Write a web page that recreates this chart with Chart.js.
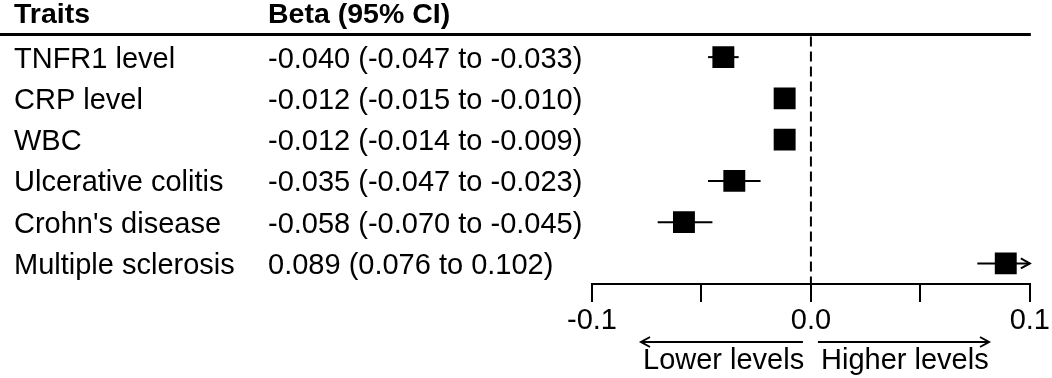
<!DOCTYPE html>
<html>
<head>
<meta charset="utf-8">
<script src="https://cdn.jsdelivr.net/npm/chart.js@4/dist/chart.umd.min.js"></script>
<style>
  html, body { margin: 0; padding: 0; background: #fff; }
  #wrap { width: 1052px; height: 378px; }
</style>
</head>
<body>
<div id="wrap"><canvas id="c" width="1052" height="378"></canvas></div>
<script>
const traits = ["TNFR1 level", "CRP level", "WBC", "Ulcerative colitis", "Crohn's disease", "Multiple sclerosis"];
const beta = [-0.040, -0.012, -0.012, -0.035, -0.058, 0.089];
const lower = [-0.047, -0.015, -0.014, -0.047, -0.070, 0.076];
const upper = [-0.033, -0.010, -0.009, -0.023, -0.045, 0.102];
const ciText = [
  "-0.040 (-0.047 to -0.033)",
  "-0.012 (-0.015 to -0.010)",
  "-0.012 (-0.014 to -0.009)",
  "-0.035 (-0.047 to -0.023)",
  "-0.058 (-0.070 to -0.045)",
  "0.089 (0.076 to 0.102)"
];
const headers = ["Traits", "Beta (95% CI)"];
const xTicks = [-0.1, -0.05, 0, 0.05, 0.1];
const xTickLabels = ["-0.1", "", "0.0", "", "0.1"];
const directionLabels = ["Lower levels", "Higher levels"];

const FONT = "'Liberation Sans', Arial, Helvetica, sans-serif";
const X_MIN = -0.1, X_MAX = 0.1;

function arrowHead(ctx, x, y, dir) {
  ctx.beginPath();
  ctx.moveTo(x - dir * 9, y - 5);
  ctx.lineTo(x, y);
  ctx.lineTo(x - dir * 9, y + 5);
  ctx.stroke();
}

const forestPlugin = {
  id: 'forest',
  beforeDatasetsDraw(chart) {
    const ctx = chart.ctx;
    const xs = chart.scales.x, ys = chart.scales.y;
    const area = chart.chartArea;
    ctx.save();
    const x0 = xs.getPixelForValue(0);
    ctx.strokeStyle = '#000';
    ctx.lineWidth = 2;
    ctx.setLineDash([10, 5]);
    ctx.beginPath();
    ctx.moveTo(x0, area.top);
    ctx.lineTo(x0, area.bottom);
    ctx.stroke();
    ctx.setLineDash([]);
    for (let i = 0; i < beta.length; i++) {
      const y = ys.getPixelForValue(i);
      const lo = Math.max(lower[i], X_MIN), hi = Math.min(upper[i], X_MAX);
      const xl = xs.getPixelForValue(lo), xh = xs.getPixelForValue(hi);
      ctx.lineWidth = 2;
      ctx.beginPath();
      ctx.moveTo(xl, y);
      ctx.lineTo(xh, y);
      ctx.stroke();
      if (upper[i] > X_MAX) arrowHead(ctx, xh, y, 1);
      if (lower[i] < X_MIN) arrowHead(ctx, xl, y, -1);
    }
    ctx.restore();
  },
  afterDraw(chart) {
    const ctx = chart.ctx;
    const xs = chart.scales.x, ys = chart.scales.y;
    const area = chart.chartArea;
    ctx.save();
    ctx.fillStyle = '#000';
    ctx.strokeStyle = '#000';
    ctx.font = 'bold 28.5px ' + FONT;
    ctx.textBaseline = 'alphabetic';
    ctx.textAlign = 'left';
    ctx.fillText(headers[0], 14, 23);
    ctx.fillText(headers[1], 268, 23);
    ctx.lineWidth = 3;
    ctx.beginPath();
    ctx.moveTo(0, 34.5);
    ctx.lineTo(area.right + 1, 34.5);
    ctx.stroke();
    ctx.font = '29px ' + FONT;
    for (let i = 0; i < traits.length; i++) {
      const y = ys.getPixelForValue(i) + 10.5;
      ctx.fillText(traits[i], 14, y);
      ctx.fillText(ciText[i], 268, y);
    }
    const x0 = xs.getPixelForValue(0);
    const ay = 342;
    ctx.lineWidth = 2;
    ctx.beginPath();
    ctx.moveTo(x0 - 8, ay); ctx.lineTo(641, ay);
    ctx.moveTo(x0 + 7, ay); ctx.lineTo(989, ay);
    ctx.stroke();
    arrowHead(ctx, 641, ay, -1);
    arrowHead(ctx, 989, ay, 1);
    ctx.font = '29px ' + FONT;
    ctx.fillText(directionLabels[0], 643, 369);
    ctx.fillText(directionLabels[1], 821, 369);
    ctx.restore();
  }
};

new Chart(document.getElementById('c'), {
  type: 'scatter',
  data: {
    datasets: [{
      data: beta.map((b, i) => ({ x: b, y: i })),
      pointStyle: 'rect',
      pointRadius: 15.5,
      pointHoverRadius: 15.5,
      backgroundColor: '#000',
      borderWidth: 0
    }]
  },
  options: {
    responsive: false,
    animation: false,
    events: [],
    layout: { padding: { left: 592, right: 21, top: 36.5, bottom: 0 } },
    plugins: { legend: { display: false }, tooltip: { enabled: false } },
    scales: {
      x: {
        type: 'linear',
        min: X_MIN, max: X_MAX,
        afterBuildTicks: (s) => { s.ticks = xTicks.map(v => ({ value: v })); },
        afterFit: (s) => { s.height = 94; },
        border: { display: true, color: '#000', width: 2 },
        grid: { drawOnChartArea: false, drawTicks: true, tickLength: 18, color: '#000', lineWidth: 2 },
        ticks: {
          color: '#000',
          font: { family: FONT, size: 29 },
          padding: 2,
          maxRotation: 0,
          autoSkip: false,
          callback: (v, idx) => xTickLabels[idx]
        }
      },
      y: {
        type: 'linear',
        display: false,
        reverse: true,
        min: -0.5, max: 5.5
      }
    }
  },
  plugins: [forestPlugin]
});
</script>
</body>
</html>
